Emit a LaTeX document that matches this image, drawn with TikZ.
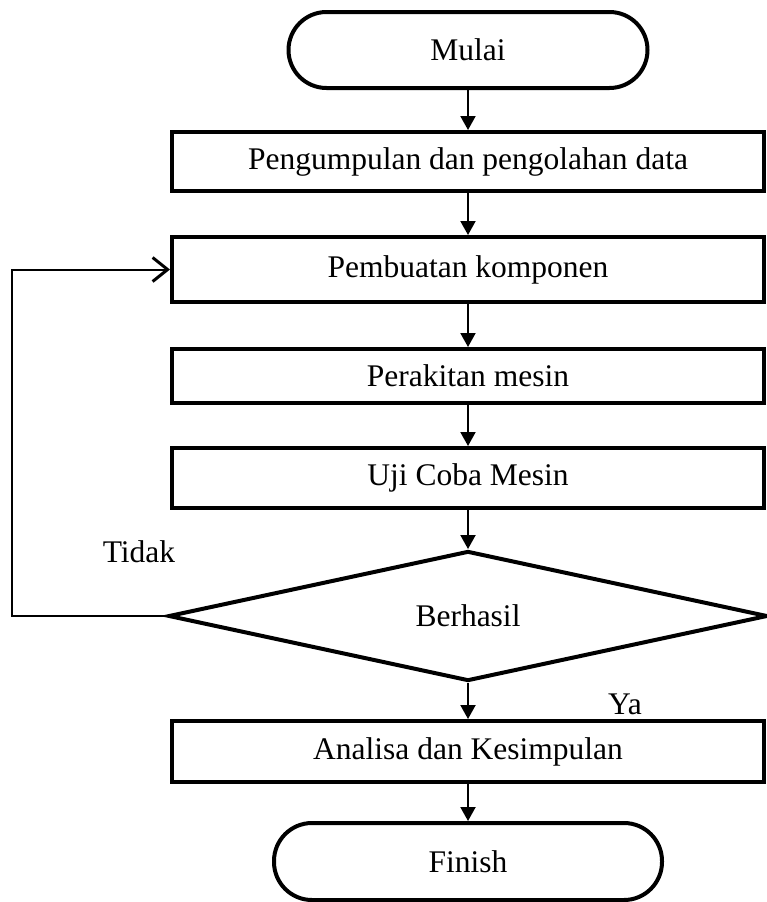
\documentclass[tikz,border=0pt]{standalone}
\usepackage{fontspec}
\setmainfont{Liberation Serif}
\usepackage{tikz}
\usetikzlibrary{positioning,arrows.meta,shapes.geometric}

\tikzset{
  terminal/.style={draw,line width=4pt,rounded corners=38pt,minimum height=76pt,inner sep=0pt},
  prosesbox/.style={draw,line width=4pt,minimum width=592pt,inner sep=0pt},
  keputusan/.style={draw,diamond,line width=4pt,minimum width=599pt,minimum height=130pt,aspect=4.6,inner sep=0pt},
  alur/.style={->,line width=2pt},
  balikalur/.style={-{Straight Barb[length=15pt,width=24pt,line width=3pt]},line width=2pt}
}

\begin{document}
\begin{tikzpicture}[>={Triangle[length=14pt,width=15pt]},x=1pt,y=1pt,
  font=\fontsize{31.5}{36}\selectfont]
\useasboundingbox (0,0) rectangle (767,-902);
\node[terminal,minimum width=359pt] (mulai) at (468,-50) {Mulai};
\node[prosesbox,minimum height=59pt,below=40pt of mulai] (data) {Pengumpulan dan pengolahan data};
\node[prosesbox,minimum height=65pt,below=42pt of data] (komponen) {Pembuatan komponen};
\node[prosesbox,minimum height=54pt,below=43pt of komponen] (rakit) {Perakitan mesin};
\node[prosesbox,minimum height=60pt,below=41pt of rakit] (uji) {Uji Coba Mesin};
\node[keputusan,below=39pt of uji] (cek) {Berhasil};
\node[prosesbox,minimum height=61pt,below=36pt of cek] (analisa) {Analisa dan Kesimpulan};
\node[terminal,minimum width=388pt,minimum height=77pt,below=37pt of analisa] (finish) {Finish};
\coordinate (balik) at (12,0);
\node (tidak) at (139,-552) {Tidak};
\node (ya) at (625,-704) {Ya};
\draw[alur] (mulai) -- (data);
\draw[alur] (data) -- (komponen);
\draw[alur] (komponen) -- (rakit);
\draw[alur] (rakit) -- (uji);
\draw[alur] (uji) -- (cek);
\draw[alur] (cek) -- (analisa);
\draw[alur] (analisa) -- (finish);
\draw[balikalur] (cek.west) -- (cek.west -| balik) |- (komponen.west);
\end{tikzpicture}
\end{document}
